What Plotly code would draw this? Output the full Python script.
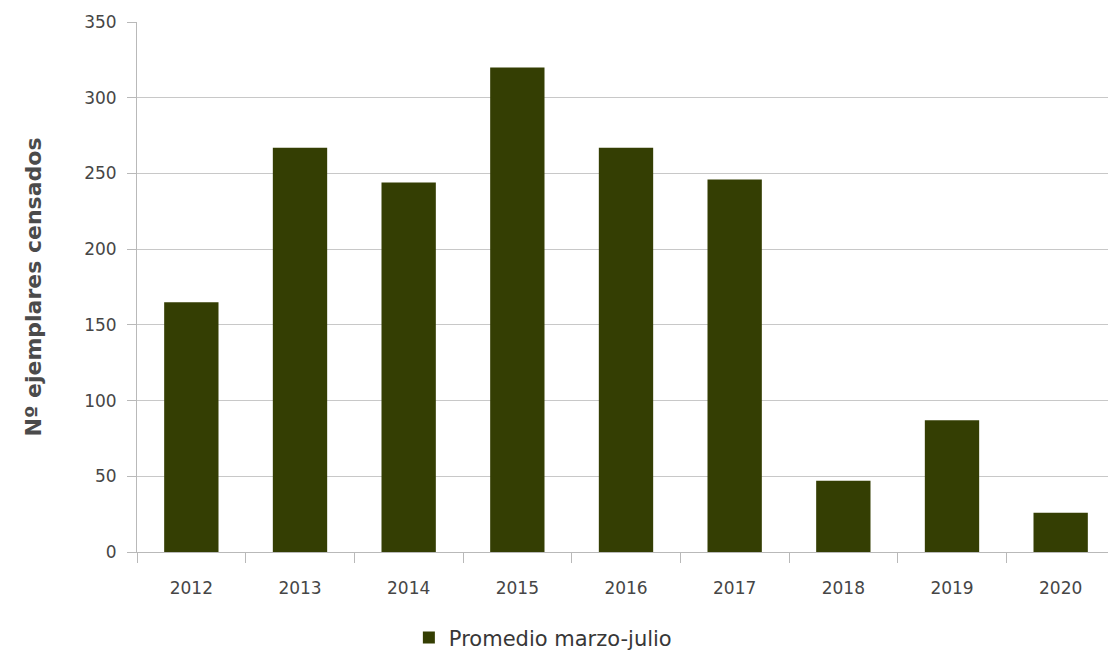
import plotly.graph_objects as go

YEARS = ["2012", "2013", "2014", "2015", "2016", "2017", "2018", "2019", "2020"]
PROMEDIO = [165, 267, 244, 320, 267, 246, 47, 87, 26]
Y_TICKS = [0, 50, 100, 150, 200, 250, 300, 350]

COLORS = {
    "bar": "rgb(52, 62, 3)",
    "text": "rgb(70, 70, 70)",
    "grid": "rgb(200, 200, 200)",
    "axis": "rgb(185, 185, 185)",
}
FONT = "'DejaVu Sans', Verdana, sans-serif"

fig = go.Figure()
fig.add_trace(
    go.Bar(
        x=YEARS,
        y=PROMEDIO,
        name="Promedio marzo-julio",
        marker={"color": COLORS["bar"], "line": {"width": 0}},
    )
)

# page body has an 8px margin, so the figure is a bit smaller than the window
fig.update_layout(
    width=1108,
    height=650,
    paper_bgcolor="white",
    plot_bgcolor="white",
    margin={"l": 129, "r": 1, "t": 14, "b": 106, "autoexpand": False},
    bargap=0.5,
    font={"family": FONT, "color": COLORS["text"], "size": 17},
    showlegend=True,
    legend={
        "orientation": "h",
        "x": 0.415,
        "xanchor": "center",
        "y": -0.162,
        "yanchor": "middle",
        "font": {"size": 21, "color": "rgb(55, 55, 55)"},
    },
    xaxis=go.layout.XAxis(
        type="category",
        showline=True,
        linecolor=COLORS["axis"],
        linewidth=1,
        ticks="outside",
        tickson="boundaries",
        ticklen=10,
        tickcolor=COLORS["axis"],
        ticklabelstandoff=21,
        showgrid=False,
        tickfont={"size": 17, "color": COLORS["text"]},
    ),
    yaxis=go.layout.YAxis(
        range=[0, 350],
        tickvals=Y_TICKS,
        showline=True,
        linecolor=COLORS["axis"],
        linewidth=1,
        ticks="outside",
        ticklen=9,
        tickcolor=COLORS["axis"],
        gridcolor=COLORS["grid"],
        zeroline=False,
        tickfont={"size": 17, "color": COLORS["text"]},
        ticklabelstandoff=7,
        title={
            "text": "<b>Nº ejemplares censados</b>",
            "font": {"size": 22, "color": "rgb(75, 75, 75)"},
            "standoff": 36,
        },
    ),
)

fig.write_html("out.html")
